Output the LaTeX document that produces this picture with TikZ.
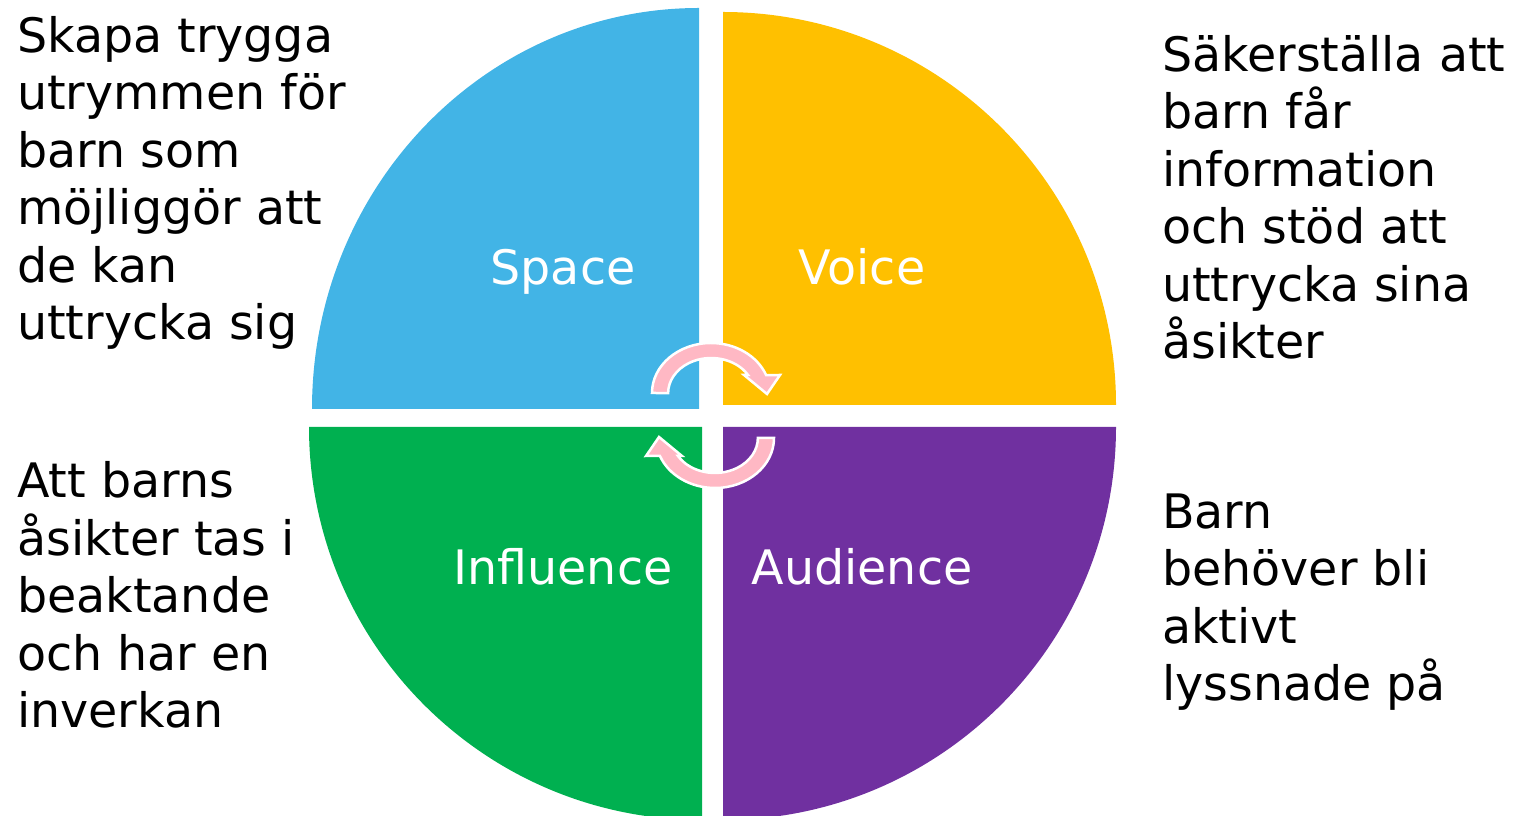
\documentclass[tikz,border=0pt]{standalone}
\usepackage{fontspec}
\setmainfont{DejaVu Sans}
\definecolor{spaceblue}{HTML}{42B4E6}
\definecolor{voiceyellow}{HTML}{FFC000}
\definecolor{influencegreen}{HTML}{00B050}
\definecolor{audiencepurple}{HTML}{7030A0}
\definecolor{cyclepink}{HTML}{FFB8C4}
\begin{document}
\begin{tikzpicture}[x=1pt,y=1pt,
  % multi-line blocks are placed by the baseline of their last line
  bigtext/.style={font=\fontsize{47.5}{57.5}\selectfont, inner sep=0pt, align=left, anchor=base west, text=black},
  quadlabel/.style={font=\fontsize{47.5}{57.5}\selectfont, inner sep=0pt, anchor=base, text=white},
  cyclearrow/.style={fill=cyclepink, draw=white, line width=2.5pt, line join=miter}]
\useasboundingbox (0,0) rectangle (1517,816);
\clip (0,0) rectangle (1517,816);

% four quadrants of the circle
\fill[spaceblue] (699,407) -- (312,407)
  arc[start angle=180, end angle=90, x radius=387, y radius=401] -- cycle;
\fill[voiceyellow] (723,411) -- (723,804)
  arc[start angle=90, end angle=0, radius=393] -- cycle;
\fill[influencegreen] (702,389) -- (309,389)
  arc[start angle=180, end angle=270, radius=393] -- cycle;
\fill[audiencepurple] (723,389) -- (1116,389)
  arc[start angle=0, end angle=-90, radius=393] -- cycle;

% quadrant labels
\node[quadlabel] (space) at (563,531) {Space};
\node[quadlabel] (voice) at (862,531) {Voice};
\node[quadlabel] (influence) at (563,231) {Influence};
\node[quadlabel] (audience) at (862,231) {Audience};

% circular arrows in the middle
\draw[cyclearrow] (652,423)
  arc[start angle=180, end angle=21, x radius=59, y radius=50]
  -- (780,441) -- (767,422) -- (744,441) -- (748,441)
  arc[start angle=31, end angle=180, x radius=43, y radius=35] -- cycle;
\draw[cyclearrow, rotate around={180:(713,400.5)}] (652,423)
  arc[start angle=180, end angle=21, x radius=59, y radius=50]
  -- (780,441) -- (767,422) -- (744,441) -- (748,441)
  arc[start angle=31, end angle=180, x radius=43, y radius=35] -- cycle;

% descriptions
\node[bigtext] (spacetext) at (17,476) {Skapa trygga\\utrymmen för\\barn som\\möjliggör att\\de kan\\uttrycka sig};
\node[bigtext] (voicetext) at (1162,457) {Säkerställa att\\barn får\\information\\och stöd att\\uttrycka sina\\åsikter};
\node[bigtext] (influencetext) at (17,88) {Att barns\\åsikter tas i\\beaktande\\och har en\\inverkan};
\node[bigtext] (audiencetext) at (1162,115) {Barn\\behöver bli\\aktivt\\lyssnade på};
\end{tikzpicture}
\end{document}
